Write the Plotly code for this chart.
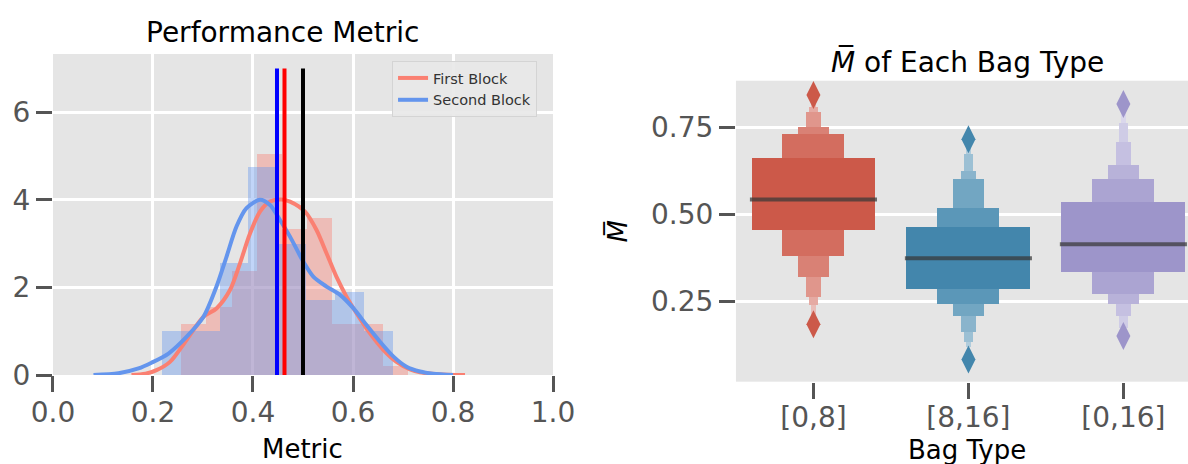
import plotly.graph_objects as go

# ---------------- data: left panel (Performance Metric) ----------------
first_edges = [0.256, 0.306, 0.357, 0.407, 0.457, 0.508, 0.558, 0.608, 0.659, 0.709]
first_heights = [1.157, 1.55, 2.38, 5.05, 3.33, 3.58, 1.157, 1.157, 0.20]
second_edges = [0.217, 0.275, 0.333, 0.390, 0.448, 0.506, 0.564, 0.622, 0.679]
second_heights = [1.01, 1.01, 2.55, 4.74, 3.00, 1.71, 1.90, 1.01]

first_kde_x = [0.157, 0.185, 0.207, 0.234, 0.267, 0.301, 0.327, 0.354, 0.374, 0.394,
               0.414, 0.434, 0.457, 0.474, 0.504, 0.527, 0.547, 0.567, 0.587, 0.607,
               0.634, 0.661, 0.687, 0.714, 0.734, 0.770, 0.824]
first_kde_y = [0.00, 0.03, 0.11, 0.30, 0.80, 1.33, 1.52, 1.94, 2.55, 3.23,
               3.73, 3.96, 4.01, 3.96, 3.73, 3.31, 2.78, 2.24, 1.79, 1.41,
               0.95, 0.57, 0.30, 0.13, 0.06, 0.02, 0.00]
second_kde_x = [0.081, 0.131, 0.171, 0.197, 0.231, 0.267, 0.301, 0.327, 0.347, 0.367,
                0.387, 0.414, 0.434, 0.454, 0.474, 0.501, 0.521, 0.547, 0.574, 0.601,
                0.627, 0.654, 0.681, 0.707, 0.734, 0.760, 0.800]
second_kde_y = [0.00, 0.04, 0.15, 0.28, 0.49, 0.87, 1.33, 2.02, 2.70, 3.39,
                3.81, 4.00, 3.88, 3.54, 3.16, 2.58, 2.24, 2.02, 1.83, 1.52,
                1.14, 0.76, 0.42, 0.19, 0.08, 0.03, 0.00]

ref_lines_x = [0.448, 0.463, 0.500]
ref_lines_top = 7.0

# ---------------- data: right panel (M-bar of each bag type) ----------------
bag_types = ["[0,8]", "[8,16]", "[0,16]"]
box_lows = [
    [0.457, 0.380, 0.321, 0.263, 0.239, 0.211],
    [0.287, 0.244, 0.208, 0.163, 0.134, 0.120],
    [0.336, 0.272, 0.244, 0.208, 0.175, 0.163],
]
box_highs = [
    [0.664, 0.733, 0.752, 0.795, 0.809, 0.833],
    [0.463, 0.519, 0.603, 0.624, 0.673, 0.704],
    [0.535, 0.601, 0.644, 0.708, 0.763, 0.800],
]
medians = [0.543, 0.374, 0.414]
outliers = [[0.184, 0.843], [0.083, 0.716], [0.150, 0.817]]

# ---------------- styles ----------------
SALMON = "#FA8072"
CORNFLOWER = "#6495ED"
level_widths = [0.8, 0.4, 0.2, 0.1, 0.055, 0.035]
level_colors = [
    ["rgb(204,89,73)", "rgb(211,109,95)", "rgb(217,129,117)", "rgb(224,150,140)", "rgb(229,170,163)", "rgb(233,188,183)"],
    ["rgb(67,134,172)", "rgb(91,151,184)", "rgb(114,166,194)", "rgb(138,180,204)", "rgb(156,192,212)", "rgb(176,204,220)"],
    ["rgb(157,149,202)", "rgb(171,164,210)", "rgb(184,178,217)", "rgb(197,192,225)", "rgb(207,204,230)", "rgb(218,215,236)"],
]
TICK_GREY = "#555555"

fig = go.Figure()

# histograms
def hist_trace(edges, heights, rgba):
    centers = [(a + b) / 2 for a, b in zip(edges[:-1], edges[1:])]
    widths = [b - a for a, b in zip(edges[:-1], edges[1:])]
    return go.Bar(x=centers, y=heights, width=widths, xaxis="x", yaxis="y",
                  marker=dict(color=rgba, line=dict(width=0)), showlegend=False,
                  hoverinfo="skip")

fig.add_trace(hist_trace(first_edges, first_heights, "rgba(250,128,114,0.4)"))
fig.add_trace(hist_trace(second_edges, second_heights, "rgba(100,149,237,0.4)"))

# kde curves
fig.add_trace(go.Scatter(x=first_kde_x, y=first_kde_y, mode="lines", name="First Block",
                         line=dict(color=SALMON, width=4, shape="spline", smoothing=0.8),
                         xaxis="x", yaxis="y"))
fig.add_trace(go.Scatter(x=second_kde_x, y=second_kde_y, mode="lines", name="Second Block",
                         line=dict(color=CORNFLOWER, width=4, shape="spline", smoothing=0.8),
                         xaxis="x", yaxis="y"))

# reference vertical lines
for xv, col in zip(ref_lines_x, ["blue", "red", "black"]):
    fig.add_trace(go.Scatter(x=[xv, xv], y=[0, ref_lines_top], mode="lines",
                             line=dict(color=col, width=4), showlegend=False,
                             xaxis="x", yaxis="y"))

# boxen plots: draw narrowest (outermost) levels first
for ci in range(len(bag_types)):
    for li in reversed(range(len(level_widths))):
        lo = box_lows[ci][li]
        hi = box_highs[ci][li]
        fig.add_trace(go.Bar(x=[ci], y=[hi - lo], base=[lo], width=[level_widths[li]],
                             marker=dict(color=level_colors[ci][li], line=dict(width=0)),
                             xaxis="x2", yaxis="y2", showlegend=False, hoverinfo="skip"))
    fig.add_trace(go.Scatter(x=[ci - 0.41, ci + 0.41], y=[medians[ci], medians[ci]], mode="lines",
                             line=dict(color="rgba(55,55,55,0.72)", width=4),
                             xaxis="x2", yaxis="y2", showlegend=False))
    fig.add_trace(go.Scatter(x=[ci] * len(outliers[ci]), y=outliers[ci], mode="markers",
                             marker=dict(symbol="diamond-tall", size=20, color=level_colors[ci][0],
                                         line=dict(width=0)),
                             xaxis="x2", yaxis="y2", showlegend=False))

tickfont = dict(family="DejaVu Sans", size=28, color=TICK_GREY)
axis_common = dict(showline=False, zeroline=False, ticks="outside", ticklen=16, tickwidth=3,
                   tickcolor=TICK_GREY, tickfont=tickfont, gridcolor="white", gridwidth=2.5,
                   automargin=False)

def text_note(text, x, y, size):
    return dict(text=text, x=x, y=y, xref="paper", yref="paper", showarrow=False,
                xanchor="center", yanchor="middle",
                font=dict(family="DejaVu Sans", size=size, color="black"))

fig.update_layout(
    width=1188, height=464,
    margin=dict(l=0, r=0, t=0, b=0),
    paper_bgcolor="white", plot_bgcolor="#E5E5E5",
    barmode="overlay", bargap=0,
    font=dict(family="DejaVu Sans", color="black"),
    xaxis=dict(domain=[0.0446, 0.4655], range=[0, 1], tickvals=[0, 0.2, 0.4, 0.6, 0.8, 1.0],
               tickformat=".1f", anchor="y", showgrid=True, ticklabelstandoff=-4,
               **axis_common),
    yaxis=dict(domain=[0.1918, 0.8836], range=[0, 7.33], tickvals=[0, 2, 4, 6], anchor="x",
               showgrid=True, **axis_common),
    xaxis2=dict(domain=[0.6195, 1.0], range=[-0.5, 2.417], tickvals=[0, 1, 2], ticktext=bag_types,
                anchor="y2", showgrid=False, ticklabelstandoff=-5,
                **axis_common),
    yaxis2=dict(domain=[0.1774, 0.826], range=[0.019, 0.884], tickvals=[0.25, 0.5, 0.75],
                tickformat=".2f", anchor="x2", showgrid=True,
                title=dict(text="<i>M\u0305</i>", font=dict(size=26, color="black")),
                **axis_common),
    legend=dict(x=0.33, y=0.8685, xanchor="left", yanchor="top",
                bgcolor="rgba(232,232,232,0.9)", bordercolor="#d4d4d4", borderwidth=1,
                font=dict(family="DejaVu Sans", size=14.5, color="#333333"), tracegroupgap=0),
    annotations=[
        text_note("Performance Metric", 0.238, 0.929, 28),
        text_note("<i>M\u0305</i> of Each Bag Type", 0.814, 0.866, 28),
        text_note("Metric", 0.2548, 0.032, 26),
        text_note("Bag Type", 0.814, 0.030, 26),
    ],
)

fig.write_html("out.html", config={"displayModeBar": False},
               post_script="document.body.style.margin='0px';document.body.style.overflow='hidden';")
